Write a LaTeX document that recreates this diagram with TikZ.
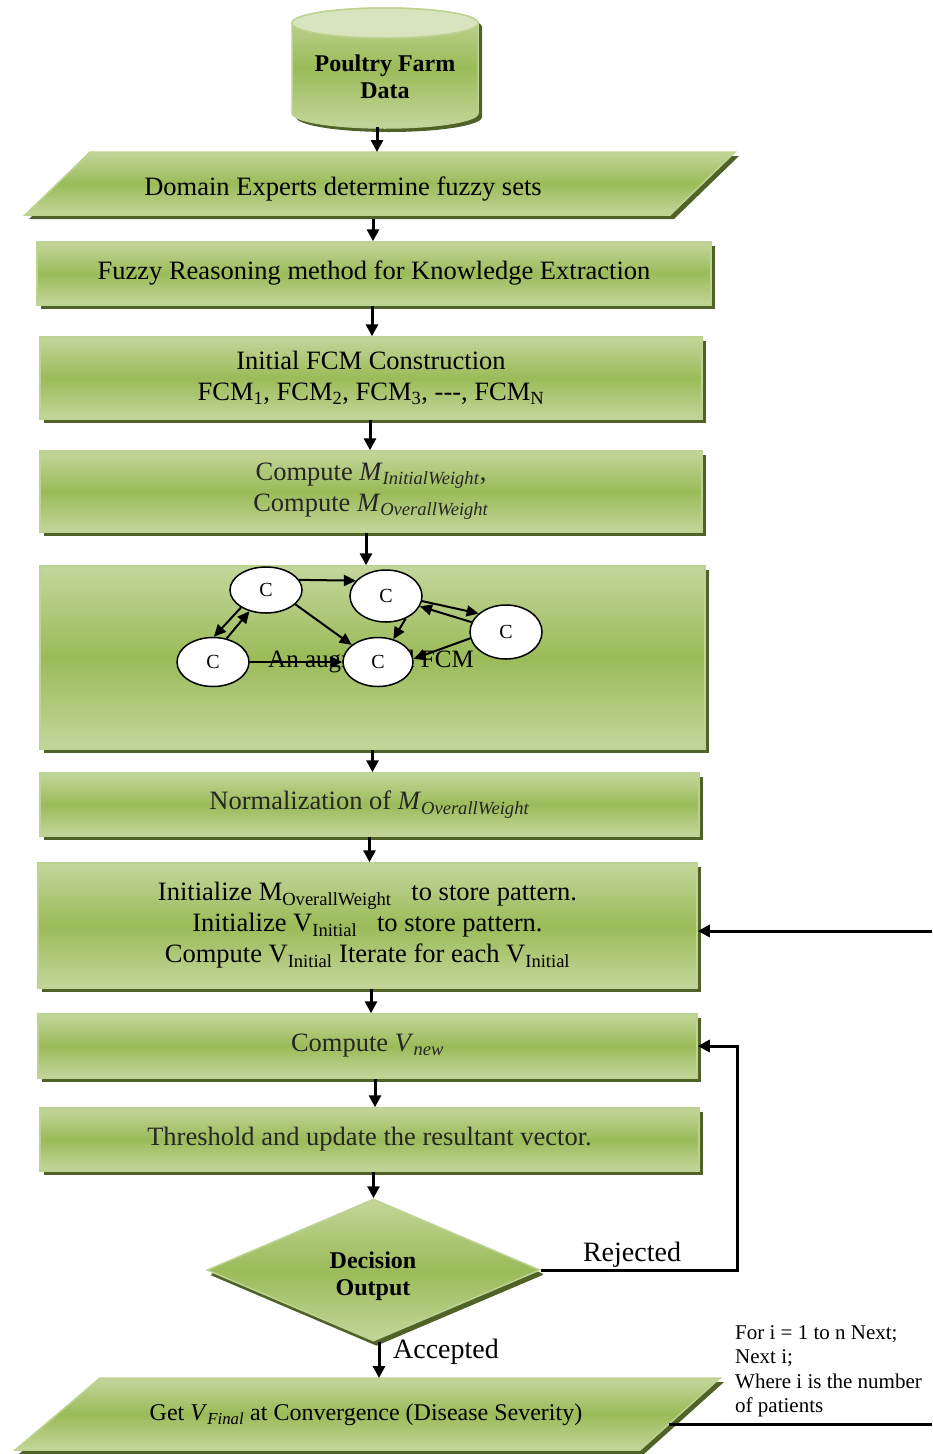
\documentclass[tikz,border=0pt]{standalone}
\usepackage{fontspec}
\setmainfont{Liberation Serif}
\usetikzlibrary{arrows.meta,shapes.geometric,shadows}

\definecolor{gLight}{HTML}{C3D69B}
\definecolor{gMid}{HTML}{9BBB59}
\definecolor{gEdge}{HTML}{BDD391}
\definecolor{gShadow}{HTML}{4F6228}
\definecolor{gTop}{HTML}{D7E4BD}
\definecolor{txtGray}{HTML}{262626}

\newcommand\fsMain{\fontsize{26.5}{31}\selectfont}
\newcommand\fsBold{\fontsize{24}{27}\selectfont\bfseries}
\newcommand\fsLabel{\fontsize{28}{32}\selectfont}
\newcommand\fsNote{\fontsize{21}{24.5}\selectfont}
\newcommand\fsFinal{\fontsize{24}{29}\selectfont}
\newcommand\fsCon{\fontsize{20}{22}\selectfont}
\newcommand\fsAug{\fontsize{25}{29}\selectfont}

\begin{document}
\begin{tikzpicture}[x=1pt,y=-1pt,
  greenfill/.style={top color=gLight, bottom color=gLight, middle color=gMid},
  gshade/.style={draw=gEdge, line width=1.5pt, greenfill,
    general shadow={fill=gShadow, shadow xshift=4pt, shadow yshift=-4pt}},
  box/.style={gshade, rectangle, inner sep=0pt, align=center, font=\fsMain},
  plain/.style={inner sep=0pt, align=center},
  arr/.style={-{Triangle[length=12pt,width=12pt]}, line width=3pt},
  garr/.style={-{Triangle[length=12pt,width=11pt]}, line width=2pt},
  con/.style={ellipse, draw, fill=white, line width=1.5pt, inner sep=0pt,
    font=\fsCon},
]
\useasboundingbox (0,0) rectangle (932,1454);

% ---- data store (cylinder) ----
\path[gshade]
  (292,23) -- (292,113)
  arc[start angle=180, end angle=360, x radius=93pt, y radius=15pt]
  -- (478,23)
  arc[start angle=0, end angle=180, x radius=93pt, y radius=15pt] -- cycle;
\path[draw=gEdge, line width=1.5pt, fill=gTop]
  (385,23) ellipse[x radius=93pt, y radius=15pt];
\node[plain, font=\fsBold] (farm) at (385,77) {Poultry Farm\\Data};
\coordinate (farmbot) at (377,127);

% ---- input parallelogram ----
\path[gshade] (90,152) -- (735,152) -- (670,215) -- (25,215) -- cycle;
\node[plain, font=\fsMain] (dom) at (343,189) {Domain Experts determine fuzzy sets};
\coordinate (domtop) at (377,152);
\coordinate (dombot) at (373,219);

% ---- process boxes ----
\node[box, minimum width=674pt, minimum height=63pt] (fuzzy) at (374,273.5)
  {Fuzzy Reasoning method for Knowledge Extraction};
\node[box, minimum width=662pt, minimum height=82pt] (initfcm) at (371,378)
  {Initial FCM Construction\\
   FCM\textsubscript{1}, FCM\textsubscript{2}, FCM\textsubscript{3}, -{}-{}-, FCM\textsubscript{N}};
\node[box, minimum width=662pt, minimum height=81pt, text=txtGray] (compM) at (371,491.5)
  {Compute \textit{M}\textsubscript{\textit{InitialWeight}},\\
   Compute \textit{M}\textsubscript{\textit{OverallWeight}}};
\node[box, minimum width=665pt, minimum height=183pt] (fcmbox) at (372.5,657.5) {};
\node[box, minimum width=659pt, minimum height=63pt, text=txtGray] (norm) at (369.5,804.5)
  {Normalization of \textit{M}\textsubscript{\textit{OverallWeight}}};
\node[box, minimum width=659pt, minimum height=125pt] (init) at (367.5,925.5)
  {Initialize M\textsubscript{OverallWeight}\ \ \ to store pattern.\\
   Initialize V\textsubscript{Initial}\ \ \ to store pattern.\\
   Compute V\textsubscript{Initial} Iterate for each V\textsubscript{Initial}};
\node[box, minimum width=659pt, minimum height=64pt, text=txtGray] (vnew) at (367.5,1046)
  {Compute \textit{V}\textsubscript{\textit{new}}};
\node[box, minimum width=659pt, minimum height=63pt, text=txtGray] (thr) at (369.5,1139.5)
  {Threshold and update the resultant vector.};

% ---- augmented FCM drawn inside its box ----
\node[plain, font=\fsAug] (aug) at (371,662) {An augmented FCM};
\node[con, minimum width=72pt, minimum height=46pt] (A) at (266,590) {C};
\node[con, minimum width=72pt, minimum height=52pt] (B) at (386,596) {C};
\node[con, minimum width=72pt, minimum height=54pt] (C) at (506,632) {C};
\node[con, minimum width=72pt, minimum height=49pt] (D) at (213,662) {C};
\node[con, minimum width=70pt, minimum height=49pt] (E) at (378,662) {C};
\draw[garr] (A.17)  -- (B.153);
\draw[garr] (B.-8)  -- (C.146);
\draw[garr] (C.164) -- (B.-17);
\draw[garr] (A.215) -- (D.88);
\draw[garr] (D.60)  -- (A.232);
\draw[garr] (A.-26) -- (E.147);
\draw[garr] (B.-49) -- (E.56);
\draw[garr] (C.190) -- (E.5);
\draw[garr] (D.0)   -- (E.180);

% ---- decision ----
\node[gshade, diamond, minimum width=333pt, minimum height=142pt, inner sep=0pt,
  general shadow={fill=gShadow, shadow xshift=3pt, shadow yshift=-5pt}] (dec) at (373.5,1270) {};
\node[plain, font=\fsBold] (dectxt) at (373,1276) {Decision\\Output};

% ---- output parallelogram ----
\path[gshade] (100,1378) -- (720,1378) -- (640,1450) -- (15,1450) -- cycle;
\node[plain, font=\fsFinal] (final) at (366,1415)
  {Get \textit{V}\textsubscript{\textit{Final}} at Convergence (Disease Severity)};
\coordinate (fintop) at (379,1378);
\coordinate (finR) at (669,1424);
\coordinate (pageR2) at (932,1424);

% ---- loop note ----
\node[inner sep=0pt, anchor=north west, align=left, font=\fsNote] (note) at (735,1325)
  {For i = 1 to n Next;\\Next i;\\Where i is the number\\of patients};

% ---- main flow ----
\draw[arr] (farmbot) -- (domtop);
\draw[arr] (dombot) -- (fuzzy.north -| dombot);
\draw[arr] ([xshift=-2pt]fuzzy.south) -- ([xshift=-2pt]fuzzy.south |- initfcm.north);
\draw[arr] ([xshift=-1pt]initfcm.south) -- ([xshift=-1pt]initfcm.south |- compM.north);
\draw[arr] ([xshift=-5pt]compM.south) -- ([xshift=-5pt]compM.south |- fcmbox.north);
\draw[arr] (fcmbox.south) -- (fcmbox.south |- norm.north);
\draw[arr] (norm.south) -- (norm.south |- init.north);
\draw[arr] ([xshift=3.5pt]init.south) -- ([xshift=3.5pt]init.south |- vnew.north);
\draw[arr] ([xshift=7.5pt]vnew.south) -- ([xshift=7.5pt]vnew.south |- thr.north);
\draw[arr] (thr.south -| dec.north) -- (dec.north);
\draw[arr] (dec.south -| fintop) -- (fintop);
\node[plain, font=\fsLabel] (acc) at (446,1352) {Accepted};

% ---- rejected loop ----
\coordinate (loopx) at (737,1272);
\draw[arr] (dec.east) -- (dec.east -| loopx) |- (vnew.east);
\node[plain, font=\fsLabel] (rej) at (632,1255) {Rejected};

% ---- iteration return ----
\coordinate (pageR) at (932,931);
\draw[arr] (pageR) -- (pageR -| init.east);
\draw[line width=3pt] (finR) -- (pageR2);
\end{tikzpicture}
\end{document}
